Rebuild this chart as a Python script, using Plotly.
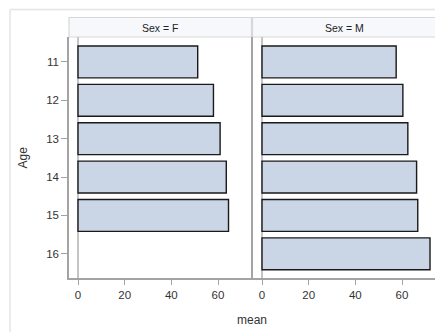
import plotly.graph_objects as go

ages_f = [11, 12, 13, 14, 15]
mean_f = [51.3, 58.05, 60.9, 63.55, 64.5]
ages_m = [11, 12, 13, 14, 15, 16]
mean_m = [57.5, 60.37, 62.5, 66.25, 66.75, 72.0]
panel_labels = ["Sex = F", "Sex = M"]
x_ticks = [0, 20, 40, 60]
y_ticks = [11, 12, 13, 14, 15, 16]

W, H = 435, 332
def px(x):
    return x / W
def py(y):
    return 1 - y / H

FONT = "Liberation Sans, Arial, sans-serif"
BAR_FILL = "#CAD5E5"
BAR_LINE = "#1a1a1a"
AXIS = "#a3a3a3"

fig = go.Figure()
fig.add_trace(go.Bar(y=ages_f, x=mean_f, orientation="h", width=0.83,
                     marker=dict(color=BAR_FILL, line=dict(color=BAR_LINE, width=1.4)),
                     xaxis="x", yaxis="y", showlegend=False))
fig.add_trace(go.Bar(y=ages_m, x=mean_m, orientation="h", width=0.83,
                     marker=dict(color=BAR_FILL, line=dict(color=BAR_LINE, width=1.4)),
                     xaxis="x2", yaxis="y2", showlegend=False))

xr = [-3.86, 74.14]
yr = [16.63, 10.35]
y_dom = [py(278), py(37)]

common_x = dict(range=xr, tickvals=x_ticks, ticks="outside", ticklen=5, tickcolor=AXIS,
                showline=True, linecolor=AXIS, linewidth=1.5, showgrid=False,
                zeroline=True, zerolinecolor="#c4c4c4", zerolinewidth=1.5,
                tickfont=dict(family=FONT, size=11.5, color="#333"), fixedrange=True)

fig.update_layout(
    width=W, height=H, margin=dict(l=0, r=0, t=0, b=0),
    paper_bgcolor="white", plot_bgcolor="white",
    barmode="overlay",
    xaxis=dict(domain=[px(69), px(251)], anchor="y", **common_x),
    xaxis2=dict(domain=[px(253), px(435)], anchor="y2", **common_x),
    yaxis=dict(domain=y_dom, range=yr, tickvals=y_ticks, ticktext=[str(v) for v in y_ticks],
               ticks="outside", ticklen=6, tickcolor=AXIS, showline=True, mirror=True,
               linecolor=AXIS, linewidth=1.5, showgrid=False, zeroline=False,
               tickfont=dict(family=FONT, size=11.5, color="#333"), anchor="x"),
    yaxis2=dict(domain=y_dom, range=yr, showticklabels=False, ticks="", showline=True,
                linecolor=AXIS, linewidth=1.5, showgrid=False, zeroline=False, anchor="x2"),
)

shapes = []
# outer frame
shapes.append(dict(type="line", xref="paper", yref="paper", x0=px(10), x1=px(440), y0=py(9.5), y1=py(9.5),
                   line=dict(color="#e4e4e4", width=1.5)))
shapes.append(dict(type="line", xref="paper", yref="paper", x0=px(10), x1=px(10), y0=py(9.5), y1=py(340),
                   line=dict(color="#e4e4e4", width=1.5)))
# header strips
for (x0, x1) in [(69, 251.5), (252.5, 440)]:
    shapes.append(dict(type="rect", xref="paper", yref="paper", x0=px(x0), x1=px(x1), y0=py(37), y1=py(17.5),
                       fillcolor="#f6f8fc", line=dict(color="#d8d8d8", width=1.2), layer="below"))
fig.update_layout(shapes=shapes)

ann = []
for lab, (x0, x1) in zip(panel_labels, [(69, 251), (253, 435)]):
    ann.append(dict(text=lab, x=px((x0 + x1) / 2), y=py(27.5), xref="paper", yref="paper",
                    showarrow=False, xanchor="center", yanchor="middle",
                    font=dict(family=FONT, size=10.5, color="#222")))
ann.append(dict(text="mean", x=px(252), y=py(320), xref="paper", yref="paper", showarrow=False,
                xanchor="center", yanchor="middle", font=dict(family=FONT, size=12, color="#333")))
ann.append(dict(text="Age", x=px(22), y=py(157.5), xref="paper", yref="paper", showarrow=False,
                textangle=-90, xanchor="center", yanchor="middle",
                font=dict(family=FONT, size=12, color="#333")))
fig.update_layout(annotations=ann)

fig.write_html("out.html", config={"displayModeBar": False},
               post_script="document.body.style.margin='0';document.body.style.overflow='hidden';")
